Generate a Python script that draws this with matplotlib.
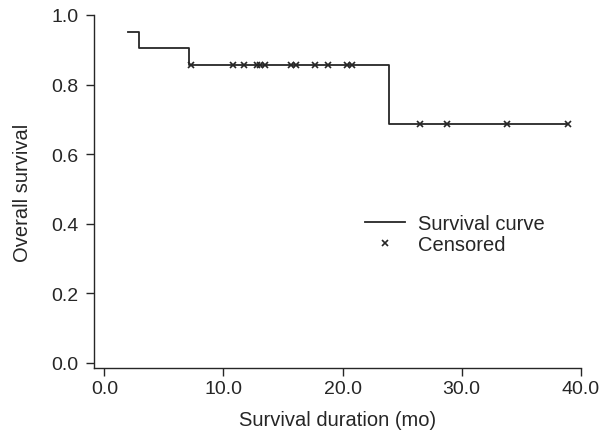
import matplotlib
matplotlib.use("Agg")
import matplotlib.pyplot as plt
import numpy as np

plt.rcParams['font.family'] = ['Liberation Sans', 'DejaVu Sans']

# Kaplan-Meier step curve (time in months, survival probability)
step_times = [2.0, 2.9, 7.1, 23.9, 38.9]
step_surv = [0.952, 0.905, 0.857, 0.686, 0.686]

# censored observations
cens_times = [7.3, 10.8, 11.7, 12.8, 13.1, 13.5, 15.7, 16.1, 17.7, 18.8, 20.4, 20.8,
              26.5, 28.8, 33.8, 38.9]
cens_surv = [0.857] * 12 + [0.686] * 4

ink = '#262626'

fig = plt.figure(figsize=(6.13, 4.39), dpi=100)
ax = fig.add_axes([94 / 613, 70 / 439, (580.7 - 94) / 613, (369 - 16) / 439])

ax.step(step_times, step_surv, where='post', color=ink, lw=1.3, label='Survival curve')
ax.plot(cens_times, cens_surv, ls='none', marker='x', ms=5, mew=1.2, color=ink,
        label='Censored')

ax.set_xlim(-0.87, 40)
ax.set_ylim(-0.015, 1.0)
ax.set_xticks(np.arange(0, 41, 10))
ax.set_xticklabels(['0.0', '10.0', '20.0', '30.0', '40.0'])
ax.set_yticks(np.arange(0, 1.01, 0.2))
ax.set_yticklabels(['0.0', '0.2', '0.4', '0.6', '0.8', '1.0'])
for s in ['top', 'right']:
    ax.spines[s].set_visible(False)
for s in ['left', 'bottom']:
    ax.spines[s].set_color(ink)
    ax.spines[s].set_linewidth(1.0)
ax.tick_params(direction='out', length=6, width=1.0, color=ink, labelcolor=ink,
               labelsize=14, pad=3)
ax.tick_params(axis='y', pad=5)
ax.set_xlabel('Survival duration (mo)', fontsize=14.5, color=ink, labelpad=9)
ax.set_ylabel('Overall survival', fontsize=14.5, color=ink, labelpad=14)

ax.legend(loc='upper left', bbox_to_anchor=(0.52, 0.487), frameon=False, fontsize=14.5,
          handlelength=2.0, handletextpad=0.6, labelspacing=0.1, labelcolor=ink)

fig.savefig('out.png', dpi=100)
